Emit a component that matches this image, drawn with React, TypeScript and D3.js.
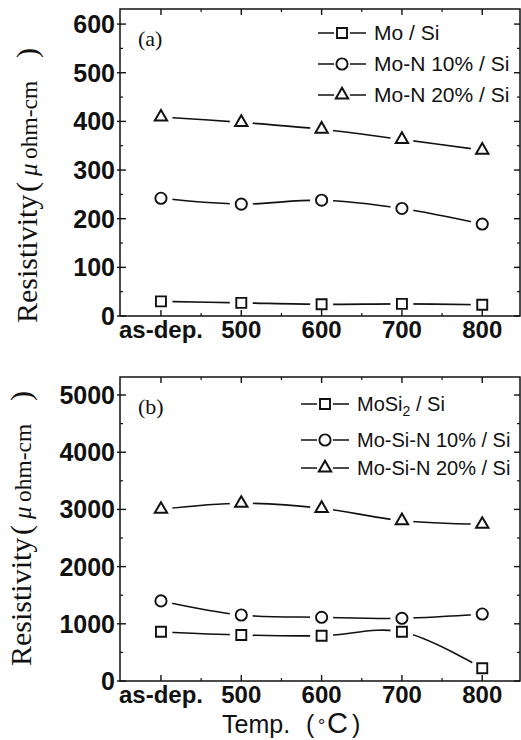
import React, { useRef, useEffect } from 'react';
import * as d3 from 'd3';

// temperatures on the x axis
const categories = ["as-dep.", "500", "600", "700", "800"];

// panel (a) resistivity, micro ohm-cm
const moSi = [30, 27, 24, 25, 23];
const moN10 = [242, 230, 238, 221, 189];
const moN20 = [409, 398, 384, 363, 341];
const ticksA = [0, 100, 200, 300, 400, 500, 600];

// panel (b)
const moSi2 = [862, 804, 792, 862, 222];
const moSiN10 = [1400, 1154, 1114, 1096, 1171];
const moSiN20 = [3002, 3107, 3019, 2802, 2740];
const ticksB = [0, 1000, 2000, 3000, 4000, 5000];

const SANS = "'Liberation Sans', Arial, Helvetica, sans-serif";
const SERIF = "'Liberation Serif', 'Times New Roman', serif";
const INK = "#111";

function marker(g, type, cx, cy) {
  if (type === "square") {
    g.append("path").attr("d", d3.symbol().type(d3.symbolSquare).size(100)())
      .attr("transform", `translate(${cx},${cy})`)
      .attr("fill", "#fff").attr("stroke", INK).attr("stroke-width", 1.9);
  } else if (type === "circle") {
    g.append("circle").attr("cx", cx).attr("cy", cy).attr("r", 5.6)
      .attr("fill", "#fff").attr("stroke", INK).attr("stroke-width", 1.9);
  } else {
    g.append("path").attr("d", d3.symbol().type(d3.symbolTriangle).size(66)())
      .attr("transform", `translate(${cx},${cy})`)
      .attr("fill", "#fff").attr("stroke", INK).attr("stroke-width", 2);
  }
}

function drawPanel(svg, p) {
  var x = d3.scaleLinear().domain([-0.51, 4.47]).range([120, 520]);
  var y = d3.scaleLinear().domain([0, p.yMax]).range([p.bottom, p.top]);
  var [x0, x1] = x.range();
  var g = svg.append("g");

  var line = d3.line()
    .x((d, i) => x(i))
    .y(d => y(d))
    .curve(d3.curveCatmullRom.alpha(0.5));

  p.series.forEach(s => {
    g.append("path").attr("d", line(s.values))
      .attr("fill", "none").attr("stroke", INK).attr("stroke-width", 1.6);
  });

  // white gaps around the points
  p.series.forEach(s => {
    s.values.forEach((v, i) => {
      g.append("circle").attr("cx", x(i)).attr("cy", y(v)).attr("r", 11.5).attr("fill", "#fff");
    });
  });

  // frame
  g.append("rect")
    .attr("x", x0).attr("y", p.top)
    .attr("width", x1 - x0).attr("height", p.bottom - p.top)
    .attr("fill", "none").attr("stroke", INK).attr("stroke-width", 1.5);

  // x ticks, bottom and top, pointing in
  var xMajor = d3.range(categories.length);
  var xMinor = xMajor.map(i => i + 0.5).filter(v => v < 4.47);
  xMajor.forEach(i => {
    g.append("line").attr("x1", x(i)).attr("x2", x(i)).attr("y1", p.bottom).attr("y2", p.bottom - 6).attr("stroke", INK).attr("stroke-width", 1.4);
    g.append("line").attr("x1", x(i)).attr("x2", x(i)).attr("y1", p.top).attr("y2", p.top + 6).attr("stroke", INK).attr("stroke-width", 1.4);
  });
  xMinor.forEach(v => {
    g.append("line").attr("x1", x(v)).attr("x2", x(v)).attr("y1", p.bottom).attr("y2", p.bottom - 3).attr("stroke", INK).attr("stroke-width", 1.2);
    g.append("line").attr("x1", x(v)).attr("x2", x(v)).attr("y1", p.top).attr("y2", p.top + 3).attr("stroke", INK).attr("stroke-width", 1.2);
  });

  // y ticks, left and right
  var step = p.ticks[1] - p.ticks[0];
  var yMinor = p.ticks.map(t => t + step / 2).filter(v => v < p.yMax);
  p.ticks.forEach(t => {
    g.append("line").attr("x1", x0 - 3).attr("x2", x0 + 6).attr("y1", y(t)).attr("y2", y(t)).attr("stroke", INK).attr("stroke-width", 1.4);
    g.append("line").attr("x1", x1).attr("x2", x1 - 6).attr("y1", y(t)).attr("y2", y(t)).attr("stroke", INK).attr("stroke-width", 1.4);
  });
  yMinor.forEach(t => {
    g.append("line").attr("x1", x0).attr("x2", x0 + 3).attr("y1", y(t)).attr("y2", y(t)).attr("stroke", INK).attr("stroke-width", 1.2);
    g.append("line").attr("x1", x1).attr("x2", x1 - 3).attr("y1", y(t)).attr("y2", y(t)).attr("stroke", INK).attr("stroke-width", 1.2);
  });

  // tick labels
  g.selectAll(null).data(p.ticks).join("text")
    .attr("x", x0 - 5).attr("y", d => y(d) + 9)
    .attr("text-anchor", "end")
    .style("font-family", SANS).style("font-size", "25px").style("font-weight", "bold")
    .attr("fill", INK)
    .text(d => d);

  g.selectAll(null).data(categories).join("text")
    .attr("x", (d, i) => x(i)).attr("y", p.bottom + 22)
    .attr("text-anchor", "middle")
    .style("font-family", SANS).style("font-size", "24px").style("font-weight", "bold")
    .attr("fill", INK)
    .text(d => d);

  // markers
  p.series.forEach(s => {
    s.values.forEach((v, i) => marker(g, s.shape, x(i), y(v)));
  });

  // panel tag
  g.append("text").attr("x", 138).attr("y", p.tagY)
    .style("font-family", SERIF).style("font-size", "22px").attr("fill", INK)
    .text(p.tag);

  // legend
  p.series.forEach((s, k) => {
    var ly = p.legend.y[k];
    var lx = p.legend.x;
    g.append("line").attr("x1", lx).attr("x2", lx + 48).attr("y1", ly).attr("y2", ly).attr("stroke", INK).attr("stroke-width", 1.6);
    g.append("circle").attr("cx", lx + 24).attr("cy", ly).attr("r", 8).attr("fill", "#fff");
    marker(g, s.shape, lx + 24, ly);
    var t = g.append("text").attr("x", lx + 56).attr("y", ly + 7)
      .style("font-family", SANS).style("font-size", p.legend.size + "px").attr("fill", INK);
    if (s.sub) {
      t.append("tspan").text(s.name);
      t.append("tspan").attr("dy", 5).style("font-size", "14px").text(s.sub);
      t.append("tspan").attr("dy", -5).text(s.rest);
    } else {
      t.text(s.name);
    }
  });

  // y axis title, rotated, pieces placed along the axis
  var pieces = [
    { txt: "Resistivity", at: 0, size: 30, style: "normal" },
    { txt: "(", at: 131, size: 30, style: "normal" },
    { txt: "\u03bc", at: 147, size: 25, style: "italic" },
    { txt: "ohm-cm", at: 164, size: 23.5, style: "normal" },
    { txt: ")", at: 265, size: 30, style: "normal" },
  ];
  pieces.forEach(pc => {
    g.append("text")
      .attr("transform", `translate(${p.titleX},${p.titleY - pc.at}) rotate(-90)`)
      .style("font-family", SERIF).style("font-size", pc.size + "px").style("font-style", pc.style)
      .attr("fill", INK)
      .text(pc.txt);
  });
}

const App = () => {
  const svgRef = useRef(null);

  useEffect(() => {
    var svg = d3.select(svgRef.current);
    svg.selectAll("*").remove();

    drawPanel(svg, {
      top: 9, bottom: 316, yMax: 631, ticks: ticksA,
      tag: "(a)", tagY: 46,
      titleX: 37, titleY: 323,
      legend: { x: 318, y: [33, 64, 95], size: 21 },
      series: [
        { name: "Mo / Si", values: moSi, shape: "square" },
        { name: "Mo-N 10% / Si", values: moN10, shape: "circle" },
        { name: "Mo-N 20% / Si", values: moN20, shape: "triangle" },
      ],
    });

    drawPanel(svg, {
      top: 377, bottom: 681, yMax: 5315, ticks: ticksB,
      tag: "(b)", tagY: 414,
      titleX: 31, titleY: 666,
      legend: { x: 301, y: [404, 440, 468], size: 20 },
      series: [
        { name: "MoSi", sub: "2", rest: " / Si", values: moSi2, shape: "square" },
        { name: "Mo-Si-N 10% / Si", values: moSiN10, shape: "circle" },
        { name: "Mo-Si-N 20% / Si", values: moSiN20, shape: "triangle" },
      ],
    });

    // x axis title, degree sign and C set apart as in the print
    var xt = svg.append("text")
      .attr("y", 733)
      .style("font-family", SANS).style("font-size", "25px")
      .attr("fill", INK);
    xt.append("tspan").attr("x", 222).text("Temp.");
    xt.append("tspan").attr("x", 306).text("(");
    xt.append("tspan").attr("x", 318).attr("dy", -1).style("font-size", "18px").text("\u00b0");
    xt.append("tspan").attr("x", 327).attr("dy", 1).style("font-size", "29px").text("C");
    xt.append("tspan").attr("x", 352).text(")");
  }, []);

  return (
    <svg ref={svgRef} width={521} height={740}
      style={{ position: 'absolute', left: 0, top: 0, background: '#fff' }} />
  );
};

export default App;
